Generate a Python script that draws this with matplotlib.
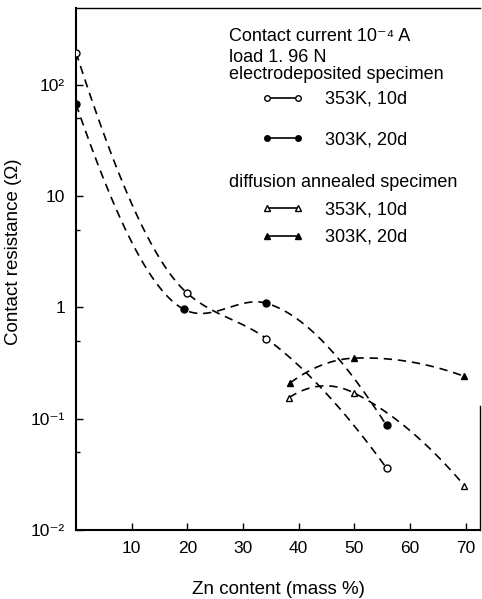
import numpy as np
import matplotlib
matplotlib.use("Agg")
import matplotlib.pyplot as plt
from matplotlib.lines import Line2D

plt.rcParams['font.family'] = ['Liberation Sans', 'DejaVu Sans']
plt.rcParams['font.size'] = 13

# Data (Zn content in mass %, contact resistance in ohm)
ed_353_x = [0, 20, 34.2, 55.8]
ed_353_y = [195, 1.34, 0.525, 0.036]

ed_303_x = [0, 19.4, 34.2, 55.8]
ed_303_y = [67, 0.96, 1.09, 0.087]

da_353_x = [38.3, 50, 69.8]
da_353_y = [0.155, 0.17, 0.025]

da_303_x = [38.5, 50, 69.8]
da_303_y = [0.21, 0.35, 0.24]

x_ticks = [10, 20, 30, 40, 50, 60, 70]
y_ticks = [1e-2, 1e-1, 1, 10, 100]
y_ticklabels = ["10\u207b\u00b2", "10\u207b\u00b9", "1", "10", "10\u00b2"]


def tangents(xs, ly, method):
    h = np.diff(xs)
    d = np.diff(ly) / h
    cr = np.zeros_like(xs)
    cr[1:-1] = (ly[2:] - ly[:-2]) / (xs[2:] - xs[:-2])
    cr[0] = 2 * d[0] - cr[1]
    cr[-1] = 2 * d[-1] - cr[-2]
    if method == 'cr':
        return cr
    # monotone (pchip style) tangents
    pc = np.zeros_like(xs)
    for k in range(1, len(xs) - 1):
        if d[k - 1] * d[k] > 0:
            w1 = 2 * h[k] + h[k - 1]
            w2 = h[k] + 2 * h[k - 1]
            pc[k] = (w1 + w2) / (w1 / d[k - 1] + w2 / d[k])
    pc[0] = ((2 * h[0] + h[1]) * d[0] - h[0] * d[1]) / (h[0] + h[1])
    pc[-1] = ((2 * h[-1] + h[-2]) * d[-1] - h[-1] * d[-2]) / (h[-1] + h[-2])
    if method == 'blend':
        return 0.5 * (pc + cr)
    return pc


def smooth(xs, ys, method='pchip', n=60):
    # dashed guide curve through the points: cubic Hermite in log space
    xs = np.asarray(xs, float)
    ly = np.log10(ys)
    m = tangents(xs, ly, method)
    xx, yy = [], []
    t = np.linspace(0, 1, n)
    h00 = 2 * t**3 - 3 * t**2 + 1
    h10 = t**3 - 2 * t**2 + t
    h01 = -2 * t**3 + 3 * t**2
    h11 = t**3 - t**2
    for i in range(len(xs) - 1):
        h = xs[i + 1] - xs[i]
        xx.append(xs[i] + t * h)
        yy.append(h00 * ly[i] + h10 * h * m[i] + h01 * ly[i + 1] + h11 * h * m[i + 1])
    return np.concatenate(xx), 10 ** np.concatenate(yy)


fig = plt.figure(figsize=(4.82, 5.99), dpi=100)
ax = fig.add_axes([76 / 482, 1 - 530 / 599, 404 / 482, 522 / 599])

series = [
    (ed_353_x, ed_353_y, 'o', 'white', 'pchip'),
    (ed_303_x, ed_303_y, 'o', 'black', 'blend'),
    (da_353_x, da_353_y, '^', 'white', 'cr'),
    (da_303_x, da_303_y, '^', 'black', 'cr'),
]
for xs, ys, mk, fc, meth in series:
    xx, yy = smooth(xs, ys, meth)
    ax.plot(xx, yy, color='black', lw=1.2, dashes=(5, 3.5))
    ax.plot(xs, ys, ls='none', marker=mk, ms=5, mfc=fc, mec='black', mew=1, zorder=3)

ax.set_yscale('log')
ax.set_xlim(0, 72.6)
ax.set_ylim(1e-2, 10 ** 2.69)
ax.set_xticks(x_ticks)
ax.set_yticks(y_ticks)
ax.set_yticklabels(y_ticklabels)
ax.set_yticks([5e-2, 5e-1, 5, 50], minor=True)
ax.yaxis.set_minor_formatter(plt.NullFormatter())
ax.tick_params(which='major', direction='in', length=5, width=1, labelsize=12.5)
ax.tick_params(which='minor', direction='in', length=3, width=1)
ax.tick_params(axis='x', pad=8)
ax.tick_params(axis='y', pad=8)
for s in ['left', 'bottom']:
    ax.spines[s].set_linewidth(1.5)
ax.spines['top'].set_linewidth(1.0)
ax.spines['right'].set_linewidth(1.0)
ax.spines['right'].set_bounds(1e-2, 0.13)

ax.set_ylabel("Contact resistance (\u03a9)", fontsize=13.5)
ax.yaxis.set_label_coords(-0.134, 0.533)
ax.set_xlabel("Zn content (mass %)", fontsize=13.5, labelpad=18)

# Legend / annotation block
tx = (229 - 76) / 404
ax.text(tx, 0.946, "Contact current 10\u207b\u2074 A", transform=ax.transAxes, va='center')
ax.text(tx, 0.905, "load 1. 96 N", transform=ax.transAxes, va='center')
ax.text(tx, 0.873, "electrodeposited specimen", transform=ax.transAxes, va='center')
ax.text(tx, 0.665, "diffusion annealed specimen", transform=ax.transAxes, va='center')

h1 = [Line2D([], [], color='black', lw=1.2, marker='o', ms=4, mfc='white', mec='black'),
      Line2D([], [], color='black', lw=1.2, marker='o', ms=4, mfc='black', mec='black')]
h2 = [Line2D([], [], color='black', lw=1.2, marker='^', ms=4, mfc='white', mec='black'),
      Line2D([], [], color='black', lw=1.2, marker='^', ms=4, mfc='black', mec='black')]

lx = (262 - 76) / 404
leg1 = ax.legend(h1, ["353K, 10d", "303K, 20d"], loc='upper left', bbox_to_anchor=(lx, 0.841),
                 frameon=False, numpoints=2, handlelength=2.3, handletextpad=1.2,
                 labelspacing=1.28, borderpad=0, borderaxespad=0)
ax.add_artist(leg1)
ax.legend(h2, ["353K, 10d", "303K, 20d"], loc='upper left', bbox_to_anchor=(lx, 0.630),
          frameon=False, numpoints=2, handlelength=2.3, handletextpad=1.2,
          labelspacing=0.6, borderpad=0, borderaxespad=0)

fig.savefig("out.png", dpi=100)
